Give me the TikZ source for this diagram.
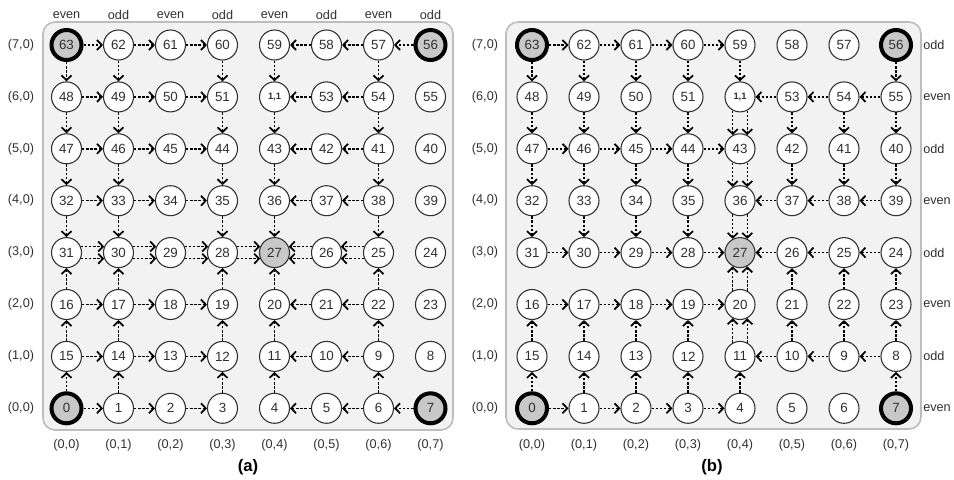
\documentclass[tikz,border=0pt]{standalone}
\usepackage{fontspec}
\setmainfont{Liberation Sans}
\usetikzlibrary{arrows.meta}
\definecolor{panelfill}{HTML}{F2F2F2}
\definecolor{panelline}{HTML}{BDBDBD}
\definecolor{hub}{HTML}{C8C8C8}
\definecolor{ink}{HTML}{303030}
\begin{document}
\begin{tikzpicture}[x=0.75pt,y=-0.75pt,
  cell/.style={circle,draw=ink,line width=0.8pt,fill=white,minimum size=22.5pt,inner sep=0pt,text=ink,font=\fontsize{10}{12}\selectfont},
  hubcell/.style={cell,fill=hub,draw=black,line width=3pt},
  graycell/.style={cell,fill=hub},
  lab/.style={inner sep=0pt,text=ink,font=\fontsize{9.5}{11}\selectfont},
  captxt/.style={inner sep=0pt,text=black,font=\bfseries\fontsize{12.5}{14}\selectfont},
  panel/.style={draw=panelline,fill=panelfill,line width=1.2pt,rounded corners=9pt},
  arr/.style={draw=black,line width=1.1pt,dash pattern=on 1.8pt off 1.3pt,-{Straight Barb[length=3.6pt,width=7.5pt,line width=1.3pt]}}
]
\useasboundingbox (0,0) rectangle (954,479);
% panels
\draw[panel] (43,22) rectangle (453,430);
\draw[panel] (506,22) rectangle (921,429);
% nodes
\foreach \p/\x in {a/66.5,b/532}{
  \foreach \r in {0,...,7}{
    \foreach \c in {0,...,7}{
      \pgfmathtruncatemacro\n{mod(\r,2)==1 ? 8*\r+7-\c : 8*\r+\c}
      \def\sty{cell}
      \ifnum\n=63 \def\sty{hubcell}\fi
      \ifnum\n=56 \def\sty{hubcell}\fi
      \ifnum\n=0 \def\sty{hubcell}\fi
      \ifnum\n=7 \def\sty{hubcell}\fi
      \ifnum\n=27 \def\sty{graycell}\fi
      \def\lbl{\n}
      \ifnum\n=52 \def\lbl{{\fontsize{7}{8}\selectfont\bfseries 1,1}}\fi
      \node[\sty] (\p\r\c) at ({\x+52*\c},{45+51.9*(7-\r)}) {\lbl};
    }
  }
}
% labels
\foreach \c/\t in {0/even,1/odd,2/even,3/odd,4/even,5/odd,6/even,7/odd}{
  \node[lab] (ta\c) at ({66.5+52*\c},15) {\t};
}
\foreach \r in {0,...,7}{
  \node[lab] (la\r) at (21,{45+51.9*(7-\r)}) {(\r,0)};
  \node[lab] (lb\r) at (485,{45+51.9*(7-\r)}) {(\r,0)};
}
\foreach \r/\t in {7/odd,6/even,5/odd,4/even,3/odd,2/even,1/odd,0/even}{
  \node[lab,anchor=west] (rb\r) at (923,{45+51.9*(7-\r)}) {\t};
}
\foreach \c in {0,...,7}{
  \node[lab] (ba\c) at ({66.5+52*\c},445) {(0,\c)};
  \node[lab] (bb\c) at ({532+52*\c},445) {(0,\c)};
}
\node[captxt] (capa) at (248,467) {(a)};
\node[captxt] (capb) at (712,467) {(b)};
% ---------- panel (a) edges ----------
\foreach \r in {7,6,5,4,2,1,0}{
  \foreach \c/\d in {0/1,1/2,2/3}{ \draw[arr] (a\r\c) -- (a\r\d); }
  \foreach \c/\d in {6/5,5/4}{ \draw[arr] (a\r\c) -- (a\r\d); }
}
\draw[arr] (a77) -- (a76);
\draw[arr] (a07) -- (a06);
\foreach \c/\d in {0/1,1/2,2/3,3/4}{
  \draw[arr] (a3\c.23) -- (a3\d.157);
  \draw[arr] (a3\c.-23) -- (a3\d.-157);
}
\foreach \c/\d in {6/5,5/4}{
  \draw[arr] (a3\c.157) -- (a3\d.23);
  \draw[arr] (a3\c.-157) -- (a3\d.-23);
}
\foreach \c in {0,1,3,4,6}{
  \foreach \r/\s in {7/6,6/5,5/4,4/3}{ \draw[arr] (a\r\c) -- (a\s\c); }
  \foreach \r/\s in {0/1,1/2,2/3}{ \draw[arr] (a\r\c) -- (a\s\c); }
}
% ---------- panel (b) edges ----------
\foreach \r in {7,5,3,2,0}{
  \foreach \c/\d in {0/1,1/2,2/3,3/4}{ \draw[arr] (b\r\c) -- (b\r\d); }
}
\foreach \r in {6,4,3,1}{
  \foreach \c/\d in {7/6,6/5,5/4}{ \draw[arr] (b\r\c) -- (b\r\d); }
}
\foreach \c in {0,1,2,3,4,7}{ \draw[arr] (b7\c) -- (b6\c); \draw[arr] (b0\c) -- (b1\c); }
\foreach \c in {0,1,2,3,5,6,7}{
  \draw[arr] (b6\c) -- (b5\c);
  \draw[arr] (b5\c) -- (b4\c);
  \draw[arr] (b1\c) -- (b2\c);
}
\foreach \c in {0,1,2,3}{ \draw[arr] (b4\c) -- (b3\c); }
\foreach \c in {5,6,7}{ \draw[arr] (b2\c) -- (b3\c); }
\foreach \r/\s in {6/5,5/4,4/3}{
  \draw[arr] (b\r4.-62) -- (b\s4.62);
  \draw[arr] (b\r4.-118) -- (b\s4.118);
}
\foreach \r/\s in {1/2,2/3}{
  \draw[arr] (b\r4.62) -- (b\s4.-62);
  \draw[arr] (b\r4.118) -- (b\s4.-118);
}
\end{tikzpicture}
\end{document}
